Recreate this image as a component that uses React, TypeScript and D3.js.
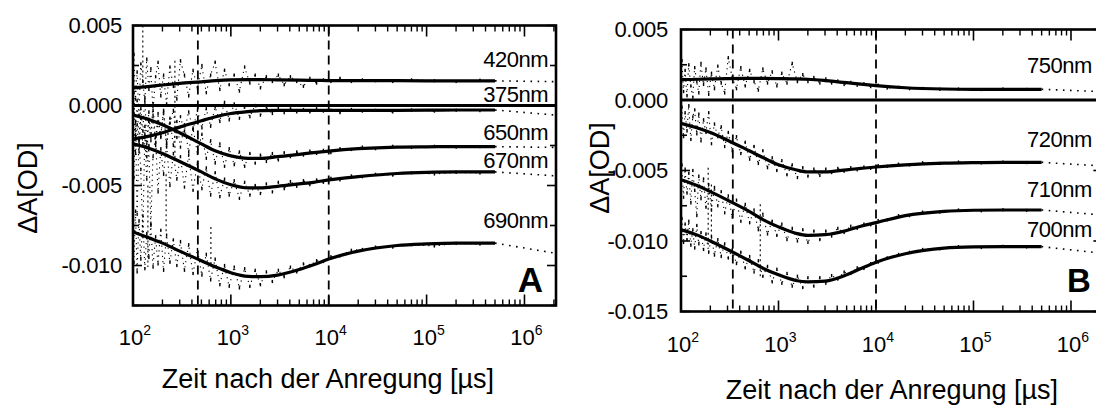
import React from "react";
import * as d3 from "d3";

// ---------- data (ΔA in mOD, time in µs) ----------
const TIMES = [102,106,110,115,120,126,132,138,145,152,160,170,180,192,205,220,238,258,280,305,335,370,410,455,505,560,620,690,770,860,960,1080,1220,1380,1560,1770,2000,2300,2650,3050,3500,4050,4700,5500,6400,7500,8800,10500,13000,17000,22000,30000,45000,70000,120000,200000,350000];

const RAW_A_420 = [3.2,0.4,2.1,-0.6,2.6,1.5,0.2,2.9,1.0,2.3,-0.3,1.8,2.7,0.6,1.9,0.1,2.4,1.2,0.4,2.8,1.9,0.6,2.2,1.1,2.5,0.8,1.9,2.7,1.0,2.2,1.3,1.9,0.9,2.4,1.4,1.9,1.1,1.8,1.5,1.9,1.3,1.8,1.5,1.2,1.7,1.4,1.6,1.5,1.7,1.5,1.6,1.55,1.5,1.6,1.55,1.5,1.58];
const RAW_A_375 = [-0.5,-3.0,-1.2,-2.9,-0.8,-2.4,-1.3,-3.2,-1.0,-2.2,-0.6,-2.5,-1.0,-1.9,-0.4,-2.3,-1.1,-0.3,-2.0,-0.7,-1.6,-0.4,-1.5,-0.3,-1.4,-0.2,-1.3,-0.1,-1.0,0.2,-0.9,0.1,-0.8,-0.1,-0.7,0.0,-0.6,-0.1,-0.5,-0.15,-0.45,-0.2,-0.4,-0.25,-0.4,-0.2,-0.35,-0.3,-0.45,-0.25,-0.35,-0.3,-0.4,-0.28,-0.35,-0.3,-0.32];
const RAW_A_650 = [0.8,-1.9,0.3,-2.2,-0.2,-1.6,0.5,-2.4,-0.4,-1.9,0.1,-2.3,-0.5,-2.0,-0.3,-2.6,-0.8,-2.5,-1.0,-2.6,-1.2,-2.9,-1.4,-3.0,-1.8,-3.3,-2.2,-3.6,-2.4,-3.8,-2.7,-3.7,-2.9,-3.8,-3.0,-3.6,-3.1,-3.5,-3.0,-3.4,-2.95,-3.2,-2.9,-3.1,-2.85,-3.0,-2.8,-2.95,-2.7,-2.75,-2.6,-2.7,-2.55,-2.62,-2.55,-2.6,-2.57];
const RAW_A_670 = [-4.5,-1.0,-6.8,-2.2,-4.0,-8.2,-1.8,-4.6,-2.5,-7.5,-3.2,-1.9,-5.4,-2.7,-4.3,-2.4,-5.0,-3.0,-4.6,-3.2,-5.1,-3.1,-5.3,-3.6,-5.2,-3.9,-5.6,-4.2,-5.7,-4.6,-5.6,-4.7,-5.8,-4.8,-5.6,-5.0,-5.5,-4.9,-5.4,-4.8,-5.2,-4.75,-5.05,-4.7,-4.95,-4.65,-4.8,-4.55,-4.65,-4.4,-4.45,-4.3,-4.35,-4.2,-4.28,-4.18,-4.22];
const RAW_A_690 = [-9.8,-6.6,-10.4,-7.2,-9.6,-6.9,-10.2,-8.0,-9.5,-7.4,-10.1,-8.2,-9.9,-7.8,-10.3,-8.1,-9.8,-8.4,-10.0,-8.5,-10.3,-8.7,-10.5,-9.0,-10.6,-9.3,-10.9,-9.6,-11.2,-10.0,-11.3,-10.1,-11.4,-10.2,-11.3,-10.3,-11.2,-10.4,-11.0,-10.3,-10.7,-10.1,-10.4,-9.9,-10.0,-9.7,-9.75,-9.45,-9.4,-9.05,-9.0,-8.85,-8.85,-8.7,-8.78,-8.62,-8.66];

const RAW_B_750 = [2.8,0.6,2.1,0.3,2.5,1.0,0.2,2.3,1.3,0.5,2.6,1.1,2.2,0.4,1.9,0.8,2.4,1.2,0.5,3.0,1.6,0.8,2.3,1.0,2.1,1.3,0.7,2.2,1.2,2.0,1.0,1.9,1.2,2.6,1.3,1.8,1.3,1.6,1.2,1.5,1.2,1.35,1.1,1.25,1.05,1.15,0.95,1.05,0.85,0.9,0.8,0.82,0.76,0.78,0.74,0.78,0.75];
const RAW_B_720 = [-0.5,-2.6,-0.9,-2.2,-0.4,-2.8,-1.2,-0.7,-2.4,-1.0,-2.9,-1.4,-2.3,-0.9,-3.1,-1.7,-2.6,-1.9,-3.3,-2.3,-3.6,-2.6,-3.8,-3.0,-4.2,-3.3,-4.5,-3.6,-4.8,-4.1,-5.0,-4.3,-5.3,-4.6,-5.5,-4.8,-5.4,-4.9,-5.35,-4.9,-5.15,-4.85,-5.05,-4.8,-4.95,-4.75,-4.85,-4.65,-4.7,-4.55,-4.6,-4.45,-4.5,-4.4,-4.46,-4.4,-4.44];
const RAW_B_710 = [-4.6,-6.9,-4.9,-6.6,-5.2,-7.3,-5.0,-6.4,-8.2,-5.4,-7.0,-5.6,-7.6,-6.0,-7.8,-6.2,-7.5,-6.5,-8.0,-6.8,-8.3,-7.1,-8.6,-7.4,-8.7,-7.8,-9.2,-8.1,-9.5,-8.6,-9.6,-8.8,-9.9,-9.1,-10.0,-9.2,-10.1,-9.3,-9.9,-9.3,-9.65,-9.1,-9.4,-8.95,-9.1,-8.8,-8.85,-8.55,-8.5,-8.2,-8.2,-7.95,-7.95,-7.8,-7.86,-7.78,-7.83];
const RAW_B_700 = [-8.4,-10.1,-8.8,-9.9,-8.6,-10.3,-9.2,-10.5,-8.9,-10.2,-9.4,-10.6,-9.5,-10.8,-9.7,-11.0,-9.9,-11.1,-10.2,-11.2,-10.6,-11.6,-10.8,-11.9,-11.1,-12.2,-11.4,-12.5,-11.8,-12.9,-12.0,-13.0,-12.3,-13.2,-12.5,-13.3,-12.6,-13.2,-12.6,-13.0,-12.45,-12.7,-12.2,-12.3,-11.9,-11.95,-11.6,-11.5,-11.2,-10.95,-10.8,-10.6,-10.55,-10.4,-10.46,-10.38,-10.42];

const FIT_T = [100,150,200,300,500,700,1000,1500,2000,3000,5000,7000,10000,20000,50000,100000,200000,500000];
const FIT_A_420 = [1.1,1.2,1.28,1.38,1.48,1.55,1.6,1.62,1.62,1.6,1.58,1.57,1.56,1.55,1.55,1.54,1.54,1.54];
const FIT_A_375 = [-2.1,-1.9,-1.7,-1.35,-0.95,-0.7,-0.5,-0.38,-0.32,-0.3,-0.3,-0.3,-0.3,-0.3,-0.3,-0.29,-0.28,-0.28];
const FIT_A_650 = [-0.6,-0.9,-1.2,-1.7,-2.4,-2.85,-3.15,-3.3,-3.3,-3.2,-3.05,-2.95,-2.85,-2.7,-2.6,-2.58,-2.57,-2.57];
const FIT_A_670 = [-2.4,-2.7,-3.0,-3.5,-4.15,-4.6,-4.95,-5.15,-5.15,-5.05,-4.9,-4.8,-4.65,-4.45,-4.25,-4.18,-4.15,-4.15];
const FIT_A_690 = [-7.9,-8.3,-8.6,-9.1,-9.7,-10.1,-10.45,-10.68,-10.7,-10.6,-10.25,-9.95,-9.6,-9.1,-8.75,-8.65,-8.6,-8.6];
const FIT_B_750 = [1.45,1.47,1.5,1.52,1.53,1.53,1.52,1.5,1.47,1.38,1.23,1.12,1.02,0.87,0.78,0.76,0.76,0.76];
const FIT_B_720 = [-1.65,-2.0,-2.3,-2.85,-3.6,-4.1,-4.6,-4.95,-5.1,-5.1,-4.95,-4.85,-4.75,-4.6,-4.48,-4.44,-4.42,-4.42];
const FIT_B_710 = [-5.65,-6.1,-6.5,-7.1,-7.9,-8.5,-9.0,-9.45,-9.6,-9.55,-9.25,-8.95,-8.7,-8.2,-7.9,-7.82,-7.8,-7.8];
const FIT_B_700 = [-9.2,-9.6,-10.0,-10.6,-11.4,-11.95,-12.4,-12.8,-12.9,-12.85,-12.4,-11.95,-11.5,-10.9,-10.5,-10.42,-10.4,-10.4];

const EXT_T = [500000, 2100000];
const EXT_A_420 = [1.54, 1.49];
const EXT_A_375 = [-0.28, -0.6];
const EXT_A_650 = [-2.57, -2.62];
const EXT_A_670 = [-4.15, -4.4];
const EXT_A_690 = [-8.6, -9.24];
const EXT_B_750 = [0.76, 0.59];
const EXT_B_720 = [-4.42, -4.68];
const EXT_B_710 = [-7.8, -8.16];
const EXT_B_700 = [-10.4, -10.87];

// vertical streaks of raw data: [time, from, to]
const STREAKS_A = [[126, 5.0, 1.2], [142, -5.0, -10.1], [218, -4.3, -8.0], [268, 2.8, -3.3], [625, -7.6, -10.1]];
const STREAKS_B = [[190, -4.8, -10.5], [205, -6.0, -10.0], [650, -7.4, -12.6]];

const MARKERS_A = [460, 10000];
const MARKERS_B = [340, 10000];

const NAMES_A = ["420nm", "375nm", "650nm", "670nm", "690nm"];
const NAMES_B = ["750nm", "720nm", "710nm", "700nm"];
const X_EXPONENTS = [2, 3, 4, 5, 6];
const Y_TICKS_A = [5, 0, -5, -10];
const Y_TICKS_B = [5, 0, -5, -10, -15];
const X_TITLE = "Zeit nach der Anregung [µs]";
const Y_TITLE = "ΔA[OD]";

const SERIES_A = [
  { raw: RAW_A_420, fit: FIT_A_420, ext: EXT_A_420 },
  { raw: RAW_A_375, fit: FIT_A_375, ext: EXT_A_375 },
  { raw: RAW_A_650, fit: FIT_A_650, ext: EXT_A_650 },
  { raw: RAW_A_670, fit: FIT_A_670, ext: EXT_A_670 },
  { raw: RAW_A_690, fit: FIT_A_690, ext: EXT_A_690 },
];
const SERIES_B = [
  { raw: RAW_B_750, fit: FIT_B_750, ext: EXT_B_750 },
  { raw: RAW_B_720, fit: FIT_B_720, ext: EXT_B_720 },
  { raw: RAW_B_710, fit: FIT_B_710, ext: EXT_B_710 },
  { raw: RAW_B_700, fit: FIT_B_700, ext: EXT_B_700 },
];

// ---------- layout ----------
const FONT = "'Liberation Sans', Arial, Helvetica, sans-serif";

const LAYOUT_A = {
  id: "A", left: 133, right: 556, top: 25.5, bottom: 305.5,
  yMin: -12.5, yMax: 5, yTicks: Y_TICKS_A,
  labelX: 548, labelAnchor: "end", labelY: [2.43, 0.24, -2.16, -3.89, -7.66],
  tickLabelX: 122, xTickBaseline: 345, xTitleX: 328, xTitleY: 388,
  yTitleX: 37, yTitleY: 188, letterX: 543, letterY: 292, letterSize: 35, letterAnchor: "end",
};
const LAYOUT_B = {
  id: "B", left: 681, right: 1102.4, top: 29.5, bottom: 311.5,
  yMin: -15, yMax: 5, yTicks: Y_TICKS_B,
  labelX: 1027, labelAnchor: "start", labelY: [1.91, -3.33, -6.88, -9.72],
  tickLabelX: 668, xTickBaseline: 352, xTitleX: 892, xTitleY: 399,
  yTitleX: 609, yTitleY: 168, letterX: 1067, letterY: 292, letterSize: 33, letterAnchor: "start",
};

function Panel({ L, series, names, streaks, markers }: any) {
  const x = d3.scaleLog().domain([100, 2100000]).range([L.left, L.right]);
  const y = d3.scaleLinear().domain([L.yMin, L.yMax]).range([L.bottom, L.top]);
  const line = d3.line<[number, number]>().x(d => x(d[0])).y(d => y(d[1])).curve(d3.curveMonotoneX);
  const rawLine = d3.line<[number, number]>().x(d => x(d[0])).y(d => y(d[1]));
  const clip = `clip${L.id}`;

  const xMinor: number[] = [];
  for (let e = 2; e <= 6; e++) for (let k = 2; k <= 9; k++) {
    const v = k * Math.pow(10, e);
    if (v <= 2100000) xMinor.push(v);
  }
  const yAll: number[] = [];
  for (let v = L.yMin; v <= L.yMax + 1e-9; v += 2.5) yAll.push(v);

  return (
    <g>
      <defs>
        <clipPath id={clip}>
          <rect x={L.left} y={L.top} width={L.right - L.left} height={L.bottom - L.top} />
        </clipPath>
      </defs>
      <g clipPath={`url(#${clip})`}>
        {/* raw data: dotted trace + dash markers */}
        {series.map((s: any, i: number) => (
          <g key={i}>
            <path d={rawLine(TIMES.map((t, j) => [t, s.raw[j]]) as any) || ""} fill="none" stroke="#000" strokeWidth={1.1} strokeDasharray="1.2,4" />
            {TIMES.map((t, j) => (
              <rect key={j} x={x(t) - 0.6} y={y(s.raw[j]) - 1.6} width={1.4} height={3.2} fill="#000" />
            ))}
          </g>
        ))}
        {streaks.map((s: number[], i: number) => (
          <line key={i} x1={x(s[0])} x2={x(s[0])} y1={y(s[1])} y2={y(s[2])} stroke="#000" strokeWidth={1.1} strokeDasharray="2,3" />
        ))}
        {/* zero line */}
        <line x1={L.left} x2={L.right} y1={y(0)} y2={y(0)} stroke="#000" strokeWidth={2.8} />
        {/* marker lines */}
        {markers.map((m: number, i: number) => (
          <line key={i} x1={x(m)} x2={x(m)} y1={L.top} y2={L.bottom} stroke="#000" strokeWidth={1.8} strokeDasharray="9,6" />
        ))}
        {/* fits */}
        {series.map((s: any, i: number) => (
          <path key={i} d={line(FIT_T.map((t, j) => [t, s.fit[j]]) as any) || ""} fill="none" stroke="#000" strokeWidth={3.2} />
        ))}
        {series.map((s: any, i: number) => (
          <path key={i} d={line(EXT_T.map((t, j) => [t, s.ext[j]]) as any) || ""} fill="none" stroke="#000" strokeWidth={1.6} strokeDasharray="1.6,5.5" />
        ))}
      </g>
      {/* axes box */}
      <rect x={L.left} y={L.top} width={L.right - L.left} height={L.bottom - L.top} fill="none" stroke="#000" strokeWidth={2.6} />
      {/* x ticks */}
      {X_EXPONENTS.map(e => {
        const xx = x(Math.pow(10, e));
        return (
          <g key={e}>
            <line x1={xx} x2={xx} y1={L.bottom} y2={L.bottom - 11} stroke="#000" strokeWidth={1.6} />
            <line x1={xx} x2={xx} y1={L.top} y2={L.top + 11} stroke="#000" strokeWidth={1.6} />
            <text x={xx + 2} y={L.xTickBaseline} textAnchor="middle" fontFamily={FONT} fontSize={22}>
              10<tspan fontSize={14} dy={-10}>{e}</tspan>
            </text>
          </g>
        );
      })}
      {xMinor.map((v, i) => (
        <g key={i}>
          <line x1={x(v)} x2={x(v)} y1={L.bottom} y2={L.bottom - 6} stroke="#000" strokeWidth={1.4} />
          <line x1={x(v)} x2={x(v)} y1={L.top} y2={L.top + 6} stroke="#000" strokeWidth={1.4} />
        </g>
      ))}
      {/* y ticks */}
      {yAll.map((v, i) => {
        const major = Math.abs(v % 5) < 1e-9;
        const len = major ? 9 : 6;
        return (
          <g key={i}>
            <line x1={L.left} x2={L.left + len} y1={y(v)} y2={y(v)} stroke="#000" strokeWidth={1.6} />
            <line x1={L.right} x2={L.right - len} y1={y(v)} y2={y(v)} stroke="#000" strokeWidth={1.6} />
          </g>
        );
      })}
      {L.yTicks.map((v: number) => (
        <text key={v} x={L.tickLabelX} y={y(v)} dy="0.36em" textAnchor="end" fontFamily={FONT} fontSize={22} letterSpacing={-0.3}>
          {(v / 1000).toFixed(3)}
        </text>
      ))}
      {/* series labels */}
      {names.map((n: string, i: number) => (
        <text key={n} x={L.labelX} y={y(L.labelY[i])} textAnchor={L.labelAnchor} fontFamily={FONT} fontSize={22} letterSpacing={-0.5}>
          {n}
        </text>
      ))}
      {/* titles */}
      <text x={L.xTitleX} y={L.xTitleY} textAnchor="middle" fontFamily={FONT} fontSize={27}>{X_TITLE}</text>
      <text transform={`translate(${L.yTitleX},${L.yTitleY}) rotate(-90)`} textAnchor="middle" fontFamily={FONT} fontSize={27}>{Y_TITLE}</text>
      <text x={L.letterX} y={L.letterY} textAnchor={L.letterAnchor} fontFamily={FONT} fontSize={L.letterSize} fontWeight="bold">{L.id}</text>
    </g>
  );
}

export default function App() {
  return (
    <svg width={1096} height={410} style={{ position: "absolute", left: 0, top: 0, background: "#fff" }}>
      <rect x={0} y={0} width={1096} height={410} fill="#fff" />
      <Panel L={LAYOUT_A} series={SERIES_A} names={NAMES_A} streaks={STREAKS_A} markers={MARKERS_A} />
      <Panel L={LAYOUT_B} series={SERIES_B} names={NAMES_B} streaks={STREAKS_B} markers={MARKERS_B} />
    </svg>
  );
}
